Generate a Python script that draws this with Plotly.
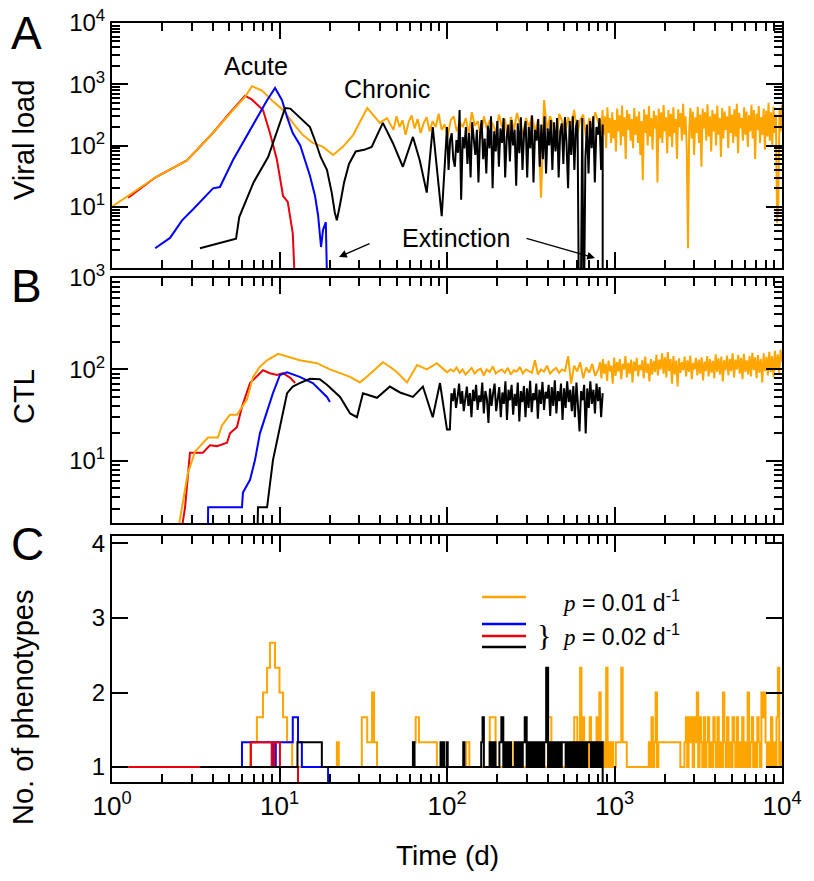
import numpy as np
import plotly.graph_objects as go
from plotly.subplots import make_subplots

ORANGE = "#FFA500"
BLUE = "#0000FF"
RED = "#E8000B"
BLACK = "#000000"
FONT = "Liberation Sans"

# ---------------- Panel A : viral load ----------------
a_orange_t = [1.0, 1.34, 1.81, 2.8, 4.0, 5.28, 6.23, 6.85, 7.86, 9.0, 10.5, 12.0, 13.8, 15.8, 18.2, 20.9,
              23.9, 27.5, 31.5, 33.4, 36.2, 39.7, 43.8]
a_orange_v = [10, 17, 30, 57, 160, 380, 620, 930, 790, 550, 380, 234, 148, 110, 95, 70,
              95, 148, 300, 410, 316, 234, 280]
# chronic phase, t = 46 .. 800
a_orange_mid = [220, 180, 300, 200, 260, 150, 240, 310, 190, 270, 160, 230, 290, 170, 250, 200, 330, 180,
                220, 140, 260, 300, 170, 240, 200, 280, 150, 350, 210, 250, 130, 300, 190, 260, 220, 160,
                320, 200, 270, 120, 290, 180, 340, 230, 150, 280, 200, 310, 170, 260, 14, 550, 180, 300,
                220, 90, 330, 250, 160, 290, 200, 380, 150, 260, 320, 130, 280, 210, 350, 240]
# t = 820 .. 10000
a_orange_late = [250, 120, 380, 150, 300, 90, 420, 160, 280, 110,
                 350, 130, 260, 80, 400, 170, 310, 100, 450, 140,
                 290, 60, 380, 180, 330, 120, 270, 90, 410, 150,
                 300, 110, 360, 70, 250, 27, 390, 160, 320, 100,
                 440, 140, 280, 85, 370, 190, 310, 25, 400, 130,
                 350, 110, 460, 170, 290, 75, 380, 140, 330, 95,
                 420, 160, 270, 60, 390, 200, 340, 120, 480, 150,
                 300, 90, 2.1, 180, 410, 130, 360, 70, 290, 160,
                 430, 110, 320, 45, 400, 190, 350, 120, 470, 140,
                 300, 80, 380, 170, 330, 100, 450, 150, 280, 65,
                 410, 130, 360, 180, 300, 90, 440, 160, 320, 110,
                 390, 140, 480, 75, 340, 190, 280, 120, 420, 150,
                 360, 95, 310, 170, 460, 130, 380, 60, 330, 180,
                 440, 110, 290, 150, 400, 85, 370, 140, 500, 120,
                 350, 100, 430, 160, 320, 5.4, 12, 400, 170, 460]

a_black_t = [3.35, 5.5, 5.75, 7.0, 8.55, 9.8, 10.8, 11.6, 13.2, 15.2, 16.5, 17.6, 19.2, 20.5, 21.4, 22.0,
             23.0, 24.3, 26.0, 28.5, 32.0, 35.5, 41.4, 47.5, 54.5, 62.6, 68.8, 75.7, 82.2, 93.0]
a_black_v = [2.1, 3.0, 6.8, 25, 65, 200, 410, 400, 290, 200, 110, 65, 40, 17, 8, 6,
             11, 25, 50, 80, 85, 95, 234, 110, 45, 138, 57, 17, 200, 7]
# t = 100 .. 850, then extinction
a_black_late = [200, 40, 123, 158, 60, 45, 123, 76, 380, 13,
                137, 90, 200, 50, 160, 30, 240, 110, 70, 180,
                25, 150, 260, 60, 130, 35, 210, 90, 300, 20,
                170, 80, 250, 45, 190, 110, 280, 30, 140, 220,
                55, 260, 100, 180, 22, 230, 75, 290, 40, 160,
                250, 30, 200, 90, 310, 25, 180, 120, 270, 45,
                220, 60, 300, 35, 190, 100, 260, 40, 240, 80,
                280, 30, 170, 230, 50, 290, 110, 20, 250, 70,
                300, 40, 200, 260, 0.1, 0.1, 280, 0.1, 60, 220,
                35, 250, 90, 300, 25, 200, 150, 280, 40, 220]

a_blue_t = [1.81, 2.22, 2.62, 3.04, 4.01, 4.41, 5.28, 6.67, 8.43, 9.41, 10.35, 11.1, 12.0, 13.3, 14.2,
            15.2, 16.3, 17.0, 17.7, 18.2, 18.9, 19.5]
a_blue_v = [2.1, 3.1, 6.0, 9.0, 20, 21, 58, 178, 550, 870, 550, 290, 160, 100, 58,
            32, 15, 7.2, 2.2, 4.2, 5.6, 0.1]

a_red_t = [1.25, 1.81, 2.8, 4.0, 5.0, 5.9, 6.23, 6.85, 7.97, 8.77, 9.66, 10.5, 11.2, 12.0, 12.7]
a_red_v = [14, 30, 57, 160, 330, 560, 650, 560, 380, 160, 58, 15, 12, 3.7, 0.1]

# ---------------- Panel B : CTL ----------------
b_orange_t = [2.5, 2.62, 2.84, 3.13, 3.74, 4.29, 4.54, 5.06, 5.57, 6.4, 6.95, 7.64, 8.43, 9.8, 11.6, 13.2,
              16.7, 20.0, 23.0, 26.4, 30.2, 34.7, 41.4, 45.6, 50.3, 57.7, 66.3, 75.7, 87.0, 100]
b_orange_v = [1.9, 3.1, 7.4, 12.6, 18, 18, 24.5, 32, 32, 47, 83, 107, 126, 148, 135, 126,
              117, 100, 91, 83, 72, 89, 120, 107, 93, 72, 112, 100, 117, 93]
# t = 105 .. 800
b_orange_mid = [100, 95, 105, 92, 100, 88, 96, 104, 90, 98, 102, 86, 100, 94, 108, 90, 96, 100, 92, 104,
                88, 98, 95, 106, 90, 100, 96, 92, 126, 88, 100, 95, 110, 90, 98, 104, 92, 100, 96, 140,
                70, 110, 95, 120, 80, 105, 92, 115, 85, 100]
# t = 820 .. 10000
b_orange_late = [120, 80, 130, 90, 115, 75, 125, 95, 110, 70,
                 135, 85, 120, 95, 130, 78, 115, 100, 140, 82,
                 118, 90, 128, 72, 122, 96, 134, 84, 112, 98,
                 126, 80, 138, 92, 116, 74, 130, 88, 124, 94,
                 145, 86, 128, 100, 150, 90, 136, 82, 155, 96,
                 130, 70, 140, 88, 125, 65, 132, 92, 120, 98,
                 138, 84, 126, 94, 142, 78, 118, 100, 134, 86,
                 128, 90, 136, 76, 122, 96, 140, 84, 130, 92,
                 124, 80, 146, 94, 132, 88, 138, 74, 126, 98,
                 142, 86, 130, 96, 150, 82, 128, 100, 144, 90,
                 134, 78, 148, 94, 126, 88, 140, 84, 152, 98,
                 136, 80, 144, 92, 130, 72, 150, 96, 138, 86,
                 156, 94, 140, 82, 160, 100, 146, 88, 165, 120]

b_black_t = [7.4, 7.44, 8.43, 9.14, 10.35, 11.1, 12.0, 13.2, 15.2, 17.4, 19.2, 23.0, 26.4, 29.0, 31.5,
             38.2, 45.6, 52.4, 62.6, 71.8, 82.2, 90.8, 100]
b_black_v = [1.9, 3.1, 3.1, 10.2, 30, 55, 65, 71, 79, 78, 68, 50, 33, 30, 55,
             49, 65, 56, 50, 65, 30, 71, 22]
# t = 104 .. 850
b_black_late = [22, 55, 45, 62, 38, 50, 70, 42, 58, 35,
                48, 65, 40, 55, 30, 60, 45, 68, 36, 52,
                44, 72, 33, 58, 48, 26, 62, 40, 55, 70,
                35, 50, 64, 30, 56, 42, 74, 28, 60, 46,
                68, 32, 54, 40, 72, 27, 58, 44, 66, 30,
                62, 38, 75, 34, 55, 46, 70, 29, 60, 42,
                73, 36, 57, 48, 68, 31, 64, 40, 76, 33,
                58, 45, 70, 28, 62, 38, 74, 44, 60, 35,
                66, 30, 72, 40, 21, 58, 46, 68, 20, 62,
                38, 74, 42, 60, 33, 70, 45, 64, 30, 55]

b_red_t = [2.62, 2.73, 2.92, 3.49, 3.84, 4.23, 4.86, 5.06, 5.57, 5.97, 6.67, 7.33, 7.97, 8.77, 9.66,
           10.5, 11.6, 12.4]
b_red_v = [1.9, 3.1, 12.3, 12.3, 14.8, 14.5, 15.8, 20, 23.4, 39, 71, 85, 98, 91, 87, 91, 81, 71]

b_blue_t = [3.74, 3.75, 5.97, 6.05, 6.67, 7.14, 7.64, 8.43, 9.14, 10.06, 11.1, 13.2, 15.8, 19.2, 20.0]
b_blue_v = [1.9, 3.1, 3.1, 4.5, 6.2, 10.2, 20, 36, 55, 87, 93, 83, 71, 50, 44]

# ---------------- Panel C : number of phenotypes ----------------
c_orange_t = [1.0, 6.7, 7.33, 7.97, 8.43, 8.77, 9.4, 10.0, 10.5, 11.1, 11.9, 22.0, 22.6, 31.0, 33.4, 35.7,
              36.7, 38.2, 63, 65, 68, 87, 130, 136, 180, 195, 250, 258, 400, 420, 560, 575]
c_orange_v = [1.0, 1.333, 1.667, 2.0, 2.333, 2.667, 2.333, 2.0, 1.667, 1.333, 1.0, 1.333, 1.0, 1.667,
              1.333, 2.0, 1.333, 1.0, 1.333, 1.667, 1.333, 1.0, 1.333, 1.0, 1.667, 1.0, 1.333, 1.0,
              1.667, 1.0, 1.333, 1.667]
# t = 600 .. 10000
c_orange_late = [1.333, 1.0, 2.333, 1.0, 1.667, 1.333, 1.0, 1.333, 1.0, 1.667,
                 1.0, 1.333, 1.0, 1.333, 1.667, 1.0, 2.0, 1.333, 1.0, 1.333,
                 1.0, 2.333, 1.0, 1.333, 1.0, 1.333, 1.0, 1.0, 1.333, 1.333,
                 1.333, 1.333, 2.333, 1.333, 1.333, 1.333, 1.0, 1.0, 1.0, 1.0,
                 1.0, 1.0, 1.0, 1.0, 1.0, 1.0, 1.0, 1.0, 1.0, 1.0,
                 1.0, 1.0, 1.333, 1.0, 1.667, 1.0, 1.333, 2.0, 1.0, 1.333,
                 1.333, 1.333, 1.333, 1.333, 1.333, 1.333, 1.333, 1.333, 1.333, 1.333,
                 1.333, 1.333, 1.333, 1.333, 1.333, 1.0, 1.0, 1.0, 1.333, 1.667,
                 1.0, 1.667, 1.333, 1.667, 1.0, 1.667, 1.333, 2.0, 1.0, 1.667,
                 1.333, 1.0, 1.667, 1.0, 1.333, 1.667, 1.0, 1.333, 1.0, 1.667,
                 1.333, 1.0, 1.667, 1.0, 1.333, 1.0, 2.0, 1.333, 1.0, 1.667,
                 1.0, 1.333, 1.0, 1.667, 1.333, 1.0, 1.667, 1.0, 1.333, 1.0,
                 1.667, 1.0, 1.333, 1.0, 2.0, 1.0, 1.333, 1.667, 1.0, 1.333,
                 1.0, 1.667, 1.333, 1.0, 2.0, 1.667, 2.0, 1.333, 1.0, 1.333,
                 1.0, 1.667, 1.0, 1.333, 1.0, 1.667, 2.333, 1.0, 1.333, 1.0]

c_black_t = [3.35, 12.8, 17.9, 62.6, 64.0, 91.5, 92.5, 94.8, 96.0, 99.5, 101, 125, 127, 160, 163, 166]
c_black_v = [1.0, 1.333, 1.0, 1.333, 1.0, 1.333, 1.0, 1.333, 1.0, 1.333, 1.0, 1.333, 1.0, 1.333, 1.667, 1.0]
# t = 175 .. 850
c_black_late = [1.0, 1.333, 1.0, 1.333, 1.0, 1.0, 1.333, 1.667, 1.0, 1.333,
                1.0, 1.333, 1.0, 1.0, 1.333, 1.0, 1.333, 1.0, 1.333, 1.667,
                1.0, 1.333, 1.0, 1.333, 1.0, 1.333, 1.0, 1.333, 1.0, 1.333,
                2.333, 1.0, 1.333, 1.0, 1.333, 1.0, 1.333, 1.0, 1.333, 1.333,
                1.0, 1.333, 1.0, 1.333, 1.0, 1.333, 1.0, 1.333, 1.0, 1.333,
                1.0, 1.333, 1.333, 1.0, 1.333, 1.0, 1.333, 1.0, 1.333, 1.0]

c_blue_t = [1.81, 5.97, 9.0, 9.2, 9.3, 9.5, 12.0, 12.9, 13.6, 19.5]
c_blue_v = [1.0, 1.333, 1.0, 1.333, 1.0, 1.333, 1.667, 1.333, 1.0, 0.0]

c_red_t = [1.25, 6.75, 9.0, 9.3, 10.06, 12.9]
c_red_v = [1.0, 1.333, 1.0, 1.333, 1.0, 0.0]


def joined(t_pts, v_pts, segments=(), tail=None):
    # smooth part + sampled noisy parts (samples spread evenly on log time)
    t = list(t_pts)
    v = list(v_pts)
    for t0, t1, vals in segments:
        t += list(np.geomspace(t0, t1, len(vals)))
        v += list(vals)
    if tail is not None:
        t.append(tail[0])
        v.append(tail[1])
    return t, v


fig = make_subplots(rows=3, cols=1)

panels = {
    1: [(RED, joined(a_red_t, a_red_v)),
        (ORANGE, joined(a_orange_t, a_orange_v, [(46, 800, a_orange_mid), (820, 10000, a_orange_late)])),
        (BLUE, joined(a_blue_t, a_blue_v)),
        (BLACK, joined(a_black_t, a_black_v, [(100, 850, a_black_late)], tail=(850, 0.1)))],
    2: [(RED, joined(b_red_t, b_red_v)),
        (ORANGE, joined(b_orange_t, b_orange_v, [(105, 800, b_orange_mid), (820, 10000, b_orange_late)])),
        (BLUE, joined(b_blue_t, b_blue_v)),
        (BLACK, joined(b_black_t, b_black_v, [(104, 850, b_black_late)]))],
    3: [(ORANGE, joined(c_orange_t, c_orange_v, [(600, 10000, c_orange_late)])),
        (BLUE, joined(c_blue_t, c_blue_v)),
        (RED, joined(c_red_t, c_red_v)),
        (BLACK, joined(c_black_t, c_black_v, [(175, 850, c_black_late)], tail=(850, 0.0)))],
}

for row, traces in panels.items():
    for color, (t, v) in traces:
        fig.add_trace(go.Scatter(x=t, y=v, mode="lines", showlegend=False,
                                 line=dict(color=color, width=2, shape="hv" if row == 3 else "linear")),
                      row=row, col=1)

# the page body adds an 8px offset; the figure is sized so the plot sits where the reference has it
OFF = 8
W, H = 814 - OFF, 881 - OFF
L, R, T, B = 112 - OFF, 32, 23 - OFF, 99

# axes
frame = dict(showline=True, linecolor="black", linewidth=2, mirror="allticks", ticks="inside",
             ticklen=16, tickwidth=2, tickcolor="black", showgrid=False, zeroline=False,
             automargin=False, layer="above traces", ticklabeloverflow="allow")
minor = dict(ticks="inside", ticklen=8, tickwidth=1.5, tickcolor="black", showgrid=False, dtick="D1")

for i in (1, 2, 3):
    fig.update_xaxes(type="log", range=[0, 4], tickmode="array", tickvals=[1, 10, 100, 1000, 10000],
                     ticktext=["10<sup>%d</sup>" % k for k in range(5)],
                     showticklabels=(i == 3), tickfont=dict(size=26, family=FONT, color="black"),
                     minor=minor, domain=[0, 1], row=i, col=1, **frame)

fig.update_yaxes(type="log", range=[0, 4], tickmode="array", tickvals=[10, 100, 1000, 10000],
                 ticktext=["10<sup>1</sup>", "10<sup>2</sup>", "10<sup>3</sup>", "10<sup>4</sup>"],
                 tickfont=dict(size=24, family=FONT, color="black"),
                 minor=minor, domain=[0.6772, 1.0], row=1, col=1, **frame)
fig.update_yaxes(type="log", range=[0.32, 3], tickmode="array", tickvals=[10, 100, 1000],
                 ticktext=["10<sup>1</sup>", "10<sup>2</sup>", "10<sup>3</sup>"],
                 tickfont=dict(size=24, family=FONT, color="black"),
                 minor=minor, domain=[0.3412, 0.6640], row=2, col=1, **frame)
fig.update_yaxes(type="linear", range=[0.8, 4.1], tickmode="array", tickvals=[1, 2, 3, 4],
                 tickfont=dict(size=24, family=FONT, color="black"),
                 domain=[0.0, 0.3241], row=3, col=1, **frame)


def px(x, y):
    # reference pixel -> paper coordinates
    return (x - OFF - L) / (W - L - R), (H - B - (y - OFF)) / (H - T - B)


ann = []


def text(x, y, s, size, angle=0, anchor="center", family=FONT):
    xp, yp = px(x, y)
    ann.append(dict(x=xp, y=yp, xref="paper", yref="paper", text=s, showarrow=False, textangle=angle,
                    xanchor=anchor, yanchor="middle", font=dict(size=size, family=family, color="black")))


text(26, 33, "A", 46)
text(26, 286, "B", 46)
text(27, 544, "C", 46)
text(24, 140, "Viral load", 29, angle=-90)
text(24, 397, "CTL", 29, angle=-90)
text(23, 707, "No. of phenotypes", 29, angle=-90)
text(447, 855, "Time (d)", 28)
text(256, 66, "Acute", 25)
text(387, 89, "Chronic", 25)
text(456, 238, "Extinction", 25)

for tip, tail in [((339, 257), (371, 243)), ((595, 258), (525, 238))]:
    xp, yp = px(*tip)
    ann.append(dict(x=xp, y=yp, xref="paper", yref="paper", text="", showarrow=True,
                    ax=tail[0] - tip[0], ay=tail[1] - tip[1], arrowhead=2, arrowsize=1.2,
                    arrowwidth=1.3, arrowcolor="black"))

ital = "<span style='font-family:Liberation Serif'><i>p</i></span>"
text(560, 601, ital + " = 0.01 d<sup>-1</sup>", 23, anchor="left")
text(560, 635, ital + " = 0.02 d<sup>-1</sup>", 23, anchor="left")
text(544, 634, "}", 30, family="Liberation Serif")

shapes = []
for color, y in [(ORANGE, 597), (BLUE, 624), (RED, 636), (BLACK, 647)]:
    x0, y0 = px(482, y)
    x1, _ = px(526, y)
    shapes.append(dict(type="line", xref="paper", yref="paper", x0=x0, x1=x1, y0=y0, y1=y0,
                       opacity=1, line=dict(color=color, width=2.5)))

fig.update_layout(template="simple_white", width=W, height=H,
                  margin=dict(l=L, r=R, t=T, b=B, autoexpand=False),
                  plot_bgcolor="white", paper_bgcolor="white",
                  font=dict(family=FONT, color="black"),
                  annotations=ann, shapes=shapes, showlegend=False)

fig.write_html("out.html")
